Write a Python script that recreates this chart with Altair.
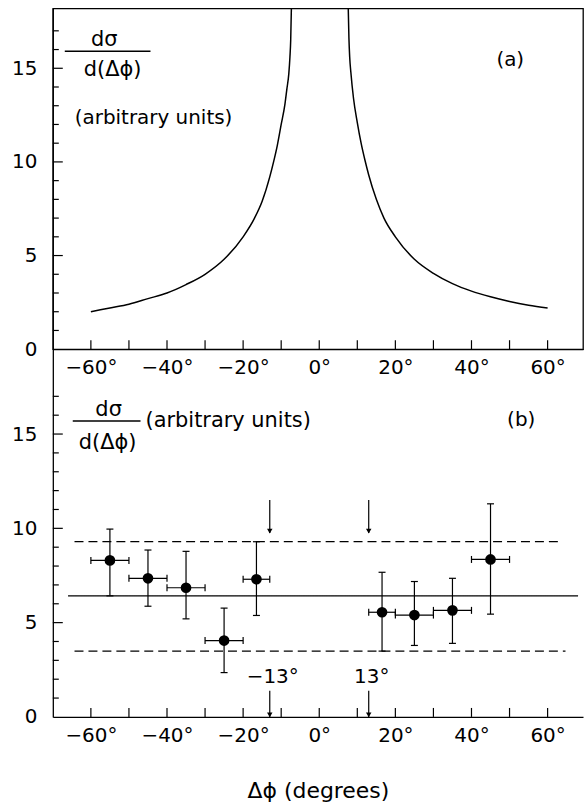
import altair as alt
import pandas as pd

FONT = "DejaVu Sans"

# ---------------- Panel (a): theoretical curve ----------------
left_x = [-60, -55, -50, -45, -40, -35, -30, -25, -20, -17, -15, -13, -12, -11, -10, -9, -8.5, -8, -7.7, -7.5, -7.3]
left_y = [2.0, 2.2, 2.4, 2.7, 3.0, 3.45, 4.0, 4.8, 6.0, 7.0, 7.9, 9.2, 10.0, 10.9, 12.0, 13.1, 13.9, 14.7, 15.6, 16.5, 18.4]
right_x = [7.6, 7.8, 8.0, 8.3, 9, 10, 11, 12, 13, 15, 17, 20, 25, 30, 35, 40, 45, 50, 55, 60]
right_y = [18.4, 16.6, 15.6, 14.8, 13.4, 12.1, 11.0, 10.1, 9.3, 8.0, 7.0, 6.0, 4.8, 4.05, 3.5, 3.1, 2.8, 2.55, 2.35, 2.2]

# ---------------- Panel (b): measured points ----------------
centers = [-55, -45, -35, -25, -16.5, 16.5, 25, 35, 45]
values = [8.3, 7.35, 6.85, 4.05, 7.3, 5.55, 5.4, 5.65, 8.35]
err_lo = [6.42, 5.87, 5.2, 2.35, 5.38, 3.49, 3.79, 3.9, 5.45]
err_hi = [9.96, 8.85, 8.78, 5.77, 9.29, 7.67, 7.18, 7.35, 11.3]
bin_lo = [-60, -50, -40, -30, -20, 13, 20, 30, 40]
bin_hi = [-50, -40, -30, -20, -13, 20, 30, 40, 50]

hl_y = [9.29, 6.42, 3.49]
hl_x0 = [-64.3, -66, -64.3]
hl_x1 = [63.5, 68, 64.7]
hl_style = ["dashed", "solid", "dashed"]

cut_angles = [-13, 13]
cut_labels = ["\u221213\u00b0", "13\u00b0"]
arrow_top_from = [11.5, 11.5]
arrow_top_tip = [9.75, 9.75]
arrow_bot_from = [1.39, 1.39]
arrow_bot_tip = [0.0, 0.0]
cut_label_y = [2.13, 2.13]

# ---------------- axes ticks / labels ----------------
x_ticks = [-60, -50, -40, -30, -20, -10, 0, 10, 20, 30, 40, 50, 60]
x_labels = [-60, -40, -20, 0, 20, 40, 60]
y_minor = [1, 2, 3, 4, 6, 7, 8, 9, 11, 12, 13, 14, 16, 17]
y_major = [5, 10, 15]
y_labels = [0, 5, 10, 15]

W = 532
HA = 342
HB = 369
XDOM = [-70, 69.3]

xs = alt.Scale(domain=XDOM, nice=False, zero=False)
ys_a = alt.Scale(domain=[0, 18.2], nice=False, zero=False)
ys_b = alt.Scale(domain=[0, 19.5], nice=False, zero=False)

xaxis_a = alt.Axis(values=x_labels, labelExpr="datum.label + '\u00b0'", ticks=False, tickSize=0,
                   grid=False, title=None, labelPadding=8, domain=True)
xaxis_b = alt.Axis(values=x_labels, labelExpr="datum.label + '\u00b0'", ticks=False, tickSize=0,
                   grid=False, title="\u0394\u03d5 (degrees)", labelPadding=9, domain=True,
                   titleFont=FONT, titleFontSize=22, titleFontWeight="normal", titlePadding=35,
                   titleColor="black")
yaxis = alt.Axis(values=y_labels, ticks=False, tickSize=0, grid=False, title=None,
                 labelPadding=16, domain=True)


def txt(s, px, py, size=20, align="center"):
    return alt.Chart(pd.DataFrame({"t": [s]})).mark_text(
        font=FONT, fontSize=size, align=align, baseline="middle", color="black"
    ).encode(x=alt.value(px), y=alt.value(py), text="t:N")


def frac_rule(x0, x1, py):
    return alt.Chart(pd.DataFrame({"t": [0]})).mark_rule(color="black", strokeWidth=1.6).encode(
        x=alt.value(x0), x2=alt.value(x1), y=alt.value(py))


def tick_layers(yscale, yax, xax, H):
    xt = alt.Chart(pd.DataFrame({"t": x_ticks})).mark_rule(color="black", strokeWidth=1.2).encode(
        x=alt.X("t:Q", scale=xs, axis=xax), y=alt.value(H), y2=alt.value(H - 9))
    ytm = alt.Chart(pd.DataFrame({"t": y_minor})).mark_rule(color="black", strokeWidth=1.2).encode(
        y=alt.Y("t:Q", scale=yscale, axis=yax), x=alt.value(0), x2=alt.value(6))
    ytM = alt.Chart(pd.DataFrame({"t": y_major})).mark_rule(color="black", strokeWidth=1.2).encode(
        y=alt.Y("t:Q", scale=yscale, axis=yax), x=alt.value(0), x2=alt.value(10))
    return [xt, ytm, ytM]


# ---------------- top panel ----------------
curve_df = pd.DataFrame({
    "x": left_x + right_x,
    "y": left_y + right_y,
    "branch": ["L"] * len(left_x) + ["R"] * len(right_x),
})
curve = alt.Chart(curve_df).mark_line(color="black", strokeWidth=1.5, clip=True, interpolate="monotone").encode(
    x=alt.X("x:Q", scale=xs, axis=xaxis_a),
    y=alt.Y("y:Q", scale=ys_a, axis=yaxis),
    detail="branch:N",
)

top = alt.layer(
    curve,
    *tick_layers(ys_a, yaxis, xaxis_a, HA),
    txt("d\u03c3", 51.5, 32, size=21),
    frac_rule(12, 98, 43),
    txt("d(\u0394\u03d5)", 60, 62, size=21),
    txt("(arbitrary units)", 22, 110, size=20, align="left"),
    txt("(a)", 459, 52),
).properties(width=W, height=HA, view=alt.ViewBackground(stroke="black", strokeWidth=1.3))

# ---------------- bottom panel ----------------
pts = pd.DataFrame({"c": centers, "v": values, "lo": err_lo, "hi": err_hi,
                    "blo": bin_lo, "bhi": bin_hi})
hl = pd.DataFrame({"y": hl_y, "x0": hl_x0, "x1": hl_x1, "style": hl_style})
cuts = pd.DataFrame({"a": cut_angles, "lab": cut_labels, "tf": arrow_top_from, "tt": arrow_top_tip,
                     "bf": arrow_bot_from, "bt": arrow_bot_tip, "ly": cut_label_y})

X = lambda f: alt.X(f, scale=xs, axis=xaxis_b)
Y = lambda f: alt.Y(f, scale=ys_b, axis=yaxis)

base = alt.Chart(pts)
vbar = base.mark_rule(color="black", strokeWidth=1.2).encode(x=X("c:Q"), y=Y("lo:Q"), y2="hi:Q")
hbar = base.mark_rule(color="black", strokeWidth=1.2).encode(x=X("blo:Q"), x2="bhi:Q", y=Y("v:Q"))
cap_lo = base.mark_tick(orient="horizontal", size=7, thickness=1.2, color="black", opacity=1).encode(x=X("c:Q"), y=Y("lo:Q"))
cap_hi = base.mark_tick(orient="horizontal", size=7, thickness=1.2, color="black", opacity=1).encode(x=X("c:Q"), y=Y("hi:Q"))
cap_l = base.mark_tick(orient="vertical", size=7, thickness=1.2, color="black", opacity=1).encode(x=X("blo:Q"), y=Y("v:Q"))
cap_r = base.mark_tick(orient="vertical", size=7, thickness=1.2, color="black", opacity=1).encode(x=X("bhi:Q"), y=Y("v:Q"))
dots = base.mark_circle(color="black", size=115, opacity=1).encode(x=X("c:Q"), y=Y("v:Q"))

hlines = alt.Chart(hl).mark_rule(color="black", strokeWidth=1.3).encode(
    x=X("x0:Q"), x2="x1:Q", y=Y("y:Q"),
    strokeDash=alt.StrokeDash("style:N", scale=alt.Scale(domain=["solid", "dashed"], range=[[1, 0], [9, 5]]), legend=None),
)

cb = alt.Chart(cuts)
arr_top = cb.mark_rule(color="black", strokeWidth=1.2).encode(x=X("a:Q"), y=Y("tf:Q"), y2="tt:Q")
arr_top_head = cb.mark_point(shape="triangle-down", filled=True, size=30, color="black", opacity=1, yOffset=-2).encode(x=X("a:Q"), y=Y("tt:Q"))
arr_bot = cb.mark_rule(color="black", strokeWidth=1.2).encode(x=X("a:Q"), y=Y("bf:Q"), y2="bt:Q")
arr_bot_head = cb.mark_point(shape="triangle-down", filled=True, size=30, color="black", opacity=1, yOffset=-2).encode(x=X("a:Q"), y=Y("bt:Q"))
cut_text = cb.mark_text(font=FONT, fontSize=20, dx=3, baseline="middle", align="center", color="black").encode(
    x=X("a:Q"), y=Y("ly:Q"), text="lab:N")

bottom = alt.layer(
    hlines, vbar, hbar, cap_lo, cap_hi, cap_l, cap_r, dots,
    arr_top, arr_top_head, arr_bot, arr_bot_head, cut_text,
    *tick_layers(ys_b, yaxis, xaxis_b, HB),
    txt("d\u03c3", 56, 61, size=21),
    frac_rule(20, 88, 72),
    txt("d(\u0394\u03d5)", 55, 94, size=21),
    txt("(arbitrary units)", 93, 72, size=21, align="left"),
    txt("(b)", 470, 71),
).properties(width=W, height=HB, view=alt.ViewBackground(stroke="transparent"))

chart = alt.vconcat(top, bottom, spacing=0, bounds="flush").properties(
    padding={"left": 10, "top": 6, "right": 0, "bottom": 0}
).configure_axis(
    labelFont=FONT, labelFontSize=20, labelColor="black", domainColor="black", domainWidth=1.3,
).configure_view(stroke="transparent")

chart.save("out.html", embed_options={"renderer": "svg", "actions": False})
